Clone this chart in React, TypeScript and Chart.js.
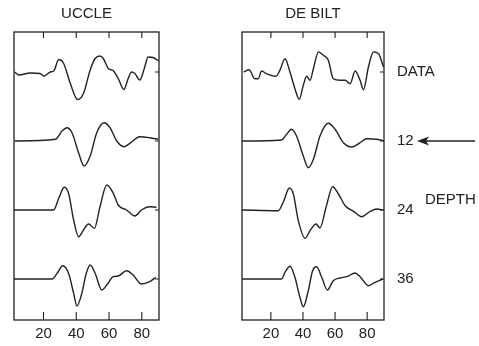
import React, { useEffect, useRef } from "react";
import { Chart, registerables } from "chart.js";

Chart.register(...registerables);

// ---- labels / ticks ----
const panelTitles = ["UCCLE", "DE BILT"];
const xTicks = [20, 40, 60, 80];
const traceLabels = ["DATA", "12", "24", "36"];
const traceOffsets = [207, 138, 69, 0];
const sideNote = "DEPTH";

// ---- UCCLE ----
const uccleDataX = [2.4, 5, 12, 18, 20.2, 24.2, 26.3, 29.3, 32.3, 36.4, 40.8, 44.4, 48.5, 51.5, 54.5, 56.5, 59.6, 62.6, 65.6, 69.1, 71.7, 73.7, 75.8, 78.8, 81.8, 83.8, 86.8, 90.3];
const uccleDataY = [0, -3, -1, -1.5, -4, 0, 1, 12.5, 8.5, -11.5, -27.5, -21.5, 2, 13.5, 16, 13.5, 3.5, 1.3, -6.5, -17.5, -6.5, 0, -1.5, -8, 5, 15, 14.5, 11];
const uccle12X = [2.4, 27.3, 31.3, 34.4, 37.4, 41.4, 44.8, 48.5, 52.5, 57, 60.6, 64.7, 69.1, 72.7, 78.8, 84.8, 89.9];
const uccle12Y = [0, 1.7, 10, 13.3, 8.3, -11.7, -25, -15, 8.3, 18.3, 13.3, 0, -5.7, -2.3, 4.3, 3.3, 1.7];
const uccle24X = [2, 26.2, 29.3, 32.7, 35.3, 38.4, 41.4, 44.4, 47.5, 51.1, 54.5, 58.6, 62.6, 65.6, 70.7, 75.8, 79.8, 84.8, 88.9];
const uccle24Y = [0, 0, 11.7, 22.7, 16.7, -10, -26.7, -20, -14, -18.3, 3.3, 25, 16.7, 5, 0, -6, 0, 3.3, 2.7];
const uccle36X = [1, 25.3, 28.3, 31.7, 35.3, 38.4, 40.4, 43.4, 46.1, 48.5, 51.5, 55.6, 58.6, 62.6, 65.6, 70.7, 74.7, 79.8, 84.8, 88.5];
const uccle36Y = [0, 0, 5.7, 13.3, 5.7, -14.3, -27, -14.3, 5.7, 14, 5.7, -11, -6, 2.3, 3, 8.3, 4, -5, -2.7, 1.7];

// ---- DE BILT ----
const deBiltDataX = [3.1, 6.4, 10, 12.1, 14.2, 17.3, 23.1, 25.6, 28.8, 31.9, 35, 37.7, 40.2, 42.3, 44.4, 46.5, 49.6, 52.7, 55.8, 58.9, 63.1, 66.3, 69.4, 72.5, 75.6, 77.7, 80.8, 83.9, 87.1, 90.2];
const deBiltDataY = [0, 2.3, -6.7, -6.7, 1, -1.7, -4.3, 1.7, 13.3, 0, -16.7, -27.3, -13.3, -4.3, -8.3, 3.3, 20, 16.7, 11.7, -6.7, -8.3, -8.3, -11.7, 1, -8.3, -17.7, 5, 20, 18.3, 5];
const deBilt12X = [1.7, 26.7, 29.8, 32.9, 36, 40.2, 43.3, 46.5, 50.6, 55.8, 60, 65.2, 70.4, 75.6, 79.8, 86, 91];
const deBilt12Y = [0, 1, 6.7, 11.7, 5, -15, -26.7, -18.3, 5, 17.7, 11.7, -1.7, -6, -1.7, 2.3, 1.7, 0];
const deBilt24X = [1.7, 24.6, 27.7, 31.5, 34, 37.1, 41.3, 44.4, 48.1, 50.6, 54.4, 58.5, 62.1, 66.3, 71.5, 76.7, 81.9, 86, 90.2];
const deBilt24Y = [0, -0.7, 7.7, 22, 16, -10.7, -28.3, -20.7, -14, -18, 2.7, 23.3, 16, 4.3, -1.3, -6.7, -1.3, 1, 0];
const deBilt36X = [1.7, 26.7, 28.8, 31.9, 35, 38.1, 40.2, 43.3, 46, 48.5, 51.7, 55.2, 58.9, 63.1, 67.3, 72.5, 75.6, 80.8, 85, 89.8];
const deBilt36Y = [0, 0, 6.7, 12.7, 1.7, -18.3, -27.7, -11.7, 8.3, 12.3, 1.7, -11, -1.7, 1, 2.3, 6, 2.3, -6.7, -3.3, 0];

const X_MIN = 2;
const X_MAX = 90.5;
const Y_MIN = -41;
const Y_MAX = 247;

const INK = "#222";
const FONT = "'Liberation Sans', Arial, Helvetica, sans-serif";

type Series = { xs: number[]; ys: number[] };

const uccleSeries: Series[] = [
  { xs: uccleDataX, ys: uccleDataY },
  { xs: uccle12X, ys: uccle12Y },
  { xs: uccle24X, ys: uccle24Y },
  { xs: uccle36X, ys: uccle36Y },
];
const deBiltSeries: Series[] = [
  { xs: deBiltDataX, ys: deBiltDataY },
  { xs: deBilt12X, ys: deBilt12Y },
  { xs: deBilt24X, ys: deBilt24Y },
  { xs: deBilt36X, ys: deBilt36Y },
];

const framePlugin = {
  id: "frame",
  afterDatasetsDraw(chart: any) {
    const { ctx, chartArea } = chart;
    const { left, right, top, bottom } = chartArea;
    const xs = chart.scales.x;
    const ys = chart.scales.y;
    ctx.save();
    ctx.strokeStyle = INK;
    ctx.lineWidth = 1.3;
    ctx.strokeRect(left, top, right - left, bottom - top);
    ctx.lineWidth = 1.1;
    ctx.beginPath();
    for (const v of xTicks) {
      const px = xs.getPixelForValue(v);
      ctx.moveTo(px, top);
      ctx.lineTo(px, top + 6);
      ctx.moveTo(px, bottom);
      ctx.lineTo(px, bottom - 8);
    }
    for (const v of traceOffsets) {
      const py = ys.getPixelForValue(v);
      ctx.moveTo(right, py);
      ctx.lineTo(right - 4, py);
    }
    ctx.stroke();
    ctx.restore();
  },
};

const arrowPlugin = {
  id: "arrow",
  afterDraw(chart: any) {
    const { ctx, chartArea } = chart;
    const y = chart.scales.y.getPixelForValue(traceOffsets[1]);
    const tip = chartArea.right + 33;
    const end = chart.width - 4;
    ctx.save();
    ctx.strokeStyle = INK;
    ctx.fillStyle = INK;
    ctx.lineWidth = 1.6;
    ctx.beginPath();
    ctx.moveTo(tip + 8, y);
    ctx.lineTo(end, y);
    ctx.stroke();
    ctx.beginPath();
    ctx.moveTo(tip, y);
    ctx.lineTo(tip + 12, y - 4.5);
    ctx.lineTo(tip + 9, y);
    ctx.lineTo(tip + 12, y + 4.5);
    ctx.closePath();
    ctx.fill();
    ctx.restore();
  },
};

function buildConfig(title: string, series: Series[], withLabels: boolean, padL: number, padR: number): any {
  const datasets = series.map((s, i) => ({
    label: traceLabels[i],
    data: s.xs.map((x, j) => ({ x, y: s.ys[j] + traceOffsets[i] })),
    borderColor: INK,
    borderWidth: 1.4,
    pointRadius: 0,
    fill: false,
    cubicInterpolationMode: "monotone",
  }));
  return {
    type: "line",
    data: { datasets },
    options: {
      animation: false,
      responsive: false,
      maintainAspectRatio: false,
      layout: { padding: { left: padL, right: padR, top: 0, bottom: 0 } },
      plugins: {
        legend: { display: false },
        tooltip: { enabled: false },
        title: {
          display: true,
          text: title,
          fullSize: false,
          color: INK,
          font: { family: FONT, size: 15, weight: "normal" },
          padding: { top: 5, bottom: 9 },
        },
      },
      scales: {
        x: {
          type: "linear",
          min: X_MIN,
          max: X_MAX,
          afterBuildTicks: (s: any) => {
            s.ticks = xTicks.map((v) => ({ value: v }));
          },
          afterFit: (s: any) => {
            s.height = 26;
          },
          grid: { display: false, drawTicks: false },
          border: { display: false },
          ticks: {
            padding: 5,
            color: INK,
            font: { family: FONT, size: 15 },
            maxRotation: 0,
            autoSkip: false,
          },
        },
        y: {
          type: "linear",
          display: withLabels,
          position: "right",
          min: Y_MIN,
          max: Y_MAX,
          afterBuildTicks: (s: any) => {
            s.ticks = traceOffsets.map((v) => ({ value: v }));
          },
          afterFit: (s: any) => {
            s.width = withLabels ? 95 : 0;
          },
          grid: { display: false, drawTicks: false },
          border: { display: false },
          ticks: {
            padding: 13,
            color: INK,
            font: { family: FONT, size: 15 },
            callback: (_v: any, idx: number) => traceLabels[idx],
          },
        },
      },
    },
    plugins: withLabels ? [framePlugin, arrowPlugin] : [framePlugin],
  };
}

export default function App() {
  const leftRef = useRef<HTMLCanvasElement>(null);
  const rightRef = useRef<HTMLCanvasElement>(null);

  useEffect(() => {
    const c1 = new Chart(leftRef.current as HTMLCanvasElement, buildConfig(panelTitles[0], uccleSeries, false, 14, 14));
    const c2 = new Chart(rightRef.current as HTMLCanvasElement, buildConfig(panelTitles[1], deBiltSeries, true, 16, 0));
    return () => {
      c1.destroy();
      c2.destroy();
    };
  }, []);

  return (
    <div style={{ position: "fixed", left: 0, top: 0, width: 479, height: 346, background: "#fff", overflow: "hidden" }}>
      <canvas
        ref={leftRef}
        width={173}
        height={346}
        style={{ position: "absolute", left: 0, top: 0, width: 173, height: 346, display: "block" }}
      />
      <canvas
        ref={rightRef}
        width={253}
        height={346}
        style={{ position: "absolute", left: 226, top: 0, width: 253, height: 346, display: "block" }}
      />
      <div
        style={{
          position: "absolute",
          left: 425,
          top: 191,
          fontFamily: FONT,
          fontSize: 15,
          lineHeight: "16px",
          color: INK,
          whiteSpace: "nowrap",
        }}
      >
        {sideNote}
      </div>
    </div>
  );
}
